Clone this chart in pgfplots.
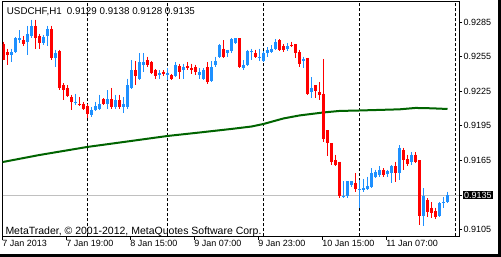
\documentclass[border=0pt]{standalone}
\usepackage{pgfplots}
\pgfplotsset{compat=1.18}
\usepackage{pgfplotstable}
\usepackage{fontspec}
\setmainfont{Liberation Sans}
\definecolor{bull}{HTML}{1E90FF}
\definecolor{bear}{HTML}{FF0000}
\definecolor{ma}{HTML}{006400}
\definecolor{cur}{HTML}{C0C0C0}

\pgfplotstableread{
i o h l c
0 0.9266 0.9268 0.9252 0.9252
1 0.9259 0.9262 0.9248 0.9256
5 0.9269 0.9273 0.9264 0.9266
8 0.9282 0.9287 0.9262 0.9271
9 0.9273 0.9275 0.9262 0.9267
12 0.9279 0.9282 0.9252 0.9254
14 0.9260 0.9261 0.9226 0.9228
15 0.9230 0.9232 0.9217 0.9226
16 0.9228 0.9230 0.9220 0.9221
17 0.9220 0.9222 0.9209 0.9216
19 0.9214 0.9220 0.9212 0.9213
20 0.9214 0.9216 0.9209 0.9210
21 0.9212 0.9214 0.9202 0.9205
25 0.9218 0.9219 0.9213 0.9214
27 0.9218 0.9228 0.9210 0.9211
29 0.9217 0.9222 0.9210 0.9211
33 0.9243 0.9251 0.9230 0.9238
36 0.9252 0.9255 0.9246 0.9248
37 0.9250 0.9251 0.9240 0.9241
38 0.9243 0.9244 0.9236 0.9238
40 0.9242 0.9243 0.9238 0.9240
42 0.9239 0.9240 0.9235 0.9236
44 0.9247 0.9249 0.9236 0.9242
46 0.9247 0.9250 0.9243 0.9245
47 0.9245 0.9249 0.9240 0.9243
48 0.9246 0.9248 0.9239 0.9242
51 0.9246 0.9250 0.9231 0.9233
55 0.9262 0.9269 0.9254 0.9255
59 0.9271 0.9271 0.9245 0.9246
63 0.9258 0.9261 0.9254 0.9255
69 0.9269 0.9270 0.9260 0.9261
70 0.9264 0.9266 0.9259 0.9261
72 0.9265 0.9268 0.9263 0.9264
73 0.9266 0.9266 0.9254 0.9258
74 0.9259 0.9261 0.9246 0.9249
76 0.9254 0.9254 0.9222 0.9223
78 0.9230 0.9230 0.9219 0.9225
79 0.9224 0.9233 0.9217 0.9222
80 0.9223 0.9253 0.9181 0.9184
81 0.9191 0.9191 0.9169 0.9180
82 0.9180 0.9180 0.9161 0.9164
83 0.9165 0.9170 0.9160 0.9161
84 0.9164 0.9164 0.9132 0.9134
88 0.9145 0.9154 0.9138 0.9140
95 0.9157 0.9158 0.9151 0.9152
98 0.9160 0.9164 0.9146 0.9154
100 0.9174 0.9176 0.9157 0.9165
101 0.9166 0.9170 0.9160 0.9162
103 0.9170 0.9172 0.9163 0.9164
104 0.9165 0.9165 0.9109 0.9117
106 0.9131 0.9132 0.9116 0.9120
107 0.9124 0.9129 0.9115 0.9119
108 0.9121 0.9124 0.9114 0.9116
}\bear

\pgfplotstableread{
i o h l c
2 0.9256 0.9262 0.9250 0.9259
3 0.9259 0.9272 0.9258 0.9271
4 0.9269 0.9278 0.9267 0.9271
6 0.9268 0.9282 0.9256 0.9275
7 0.9273 0.9287 0.9271 0.9282
10 0.9267 0.9274 0.9265 0.9272
11 0.9273 0.9282 0.9264 0.9279
13 0.9254 0.9261 0.9246 0.9258
18 0.9215 0.9223 0.9213 0.9216
22 0.9204 0.9211 0.9203 0.9209
23 0.9209 0.9216 0.9208 0.9212
24 0.9210 0.9222 0.9209 0.9214
26 0.9214 0.9226 0.9210 0.9218
28 0.9211 0.9222 0.9210 0.9217
30 0.9211 0.9220 0.9206 0.9214
31 0.9211 0.9236 0.9210 0.9230
32 0.9228 0.9252 0.9227 0.9243
34 0.9236 0.9258 0.9235 0.9250
35 0.9248 0.9258 0.9242 0.9250
39 0.9239 0.9243 0.9236 0.9241
41 0.9239 0.9245 0.9235 0.9241
43 0.9238 0.9250 0.9237 0.9248
45 0.9243 0.9249 0.9236 0.9246
49 0.9239 0.9245 0.9236 0.9242
50 0.9236 0.9245 0.9235 0.9243
52 0.9234 0.9251 0.9233 0.9246
53 0.9248 0.9255 0.9246 0.9251
54 0.9255 0.9266 0.9254 0.9265
56 0.9258 0.9261 0.9255 0.9261
57 0.9260 0.9271 0.9258 0.9270
58 0.9267 0.9271 0.9266 0.9271
60 0.9245 0.9252 0.9243 0.9248
61 0.9248 0.9261 0.9247 0.9260
62 0.9259 0.9262 0.9252 0.9260
64 0.9254 0.9262 0.9251 0.9255
65 0.9251 0.9260 0.9250 0.9258
66 0.9258 0.9263 0.9255 0.9261
67 0.9259 0.9265 0.9258 0.9262
68 0.9262 0.9270 0.9261 0.9268
71 0.9262 0.9267 0.9260 0.9264
75 0.9251 0.9255 0.9245 0.9253
77 0.9224 0.9237 0.9219 0.9228
85 0.9133 0.9147 0.9132 0.9134
86 0.9134 0.9147 0.9132 0.9147
87 0.9144 0.9147 0.9142 0.9147
89 0.9139 0.9148 0.9124 0.9140
90 0.9139 0.9149 0.9138 0.9141
91 0.9140 0.9151 0.9139 0.9143
92 0.9142 0.9158 0.9141 0.9154
93 0.9151 0.9157 0.9150 0.9155
94 0.9152 0.9160 0.9151 0.9157
96 0.9153 0.9157 0.9151 0.9156
97 0.9154 0.9161 0.9145 0.9160
99 0.9154 0.9178 0.9148 0.9176
102 0.9164 0.9172 0.9161 0.9170
105 0.9117 0.9141 0.9108 0.9134
109 0.9117 0.9129 0.9116 0.9128
110 0.9128 0.9133 0.9124 0.9129
111 0.9129 0.9138 0.9128 0.9135
}\bull

\pgfplotstableread{
i v
-0.2 0.91636
9 0.91697
21 0.91767
32 0.91819
41 0.91862
49 0.91892
57 0.91923
62 0.91944
65 0.91966
70 0.92014
74 0.92040
80 0.92066
84 0.92079
89 0.92083
99 0.92093
103 0.92105
107 0.92102
111 0.92096
}\mav

\begin{document}
\begin{tikzpicture}
\useasboundingbox (0pt,0pt) rectangle (501pt,257pt);
\fill[black] (0pt,0pt) rectangle (501pt,257pt);
\fill[white] (0pt,3pt) rectangle (498pt,257pt);
\begin{axis}[
  at={(2.7pt,20.5pt)}, anchor=south west,
  scale only axis, width=456.6pt, height=234.5pt,
  xmin=-0.2, xmax=113.95, ymin=0.909901, ymax=0.930239,
  axis line style={line width=1pt, black},
  tick style={line width=1pt, black},
  major tick length=3pt, tick align=outside,
  xtick pos=left, ytick pos=right, yticklabel pos=right,
  xtick={-0.2,15.8,31.8,47.8,63.8,79.8,95.8},
  xticklabels={7 Jan 2013,7 Jan 19:00,8 Jan 15:00,9 Jan 07:00,9 Jan 23:00,10 Jan 15:00,11 Jan 07:00},
  ytick={0.9105,0.9165,0.9195,0.9225,0.9255,0.9285},
  scaled y ticks=false,
  /pgf/number format/fixed,
  /pgf/number format/fixed zerofill,
  /pgf/number format/precision=4,
  /pgf/number format/assume math mode=true,
  tick label style={font=\fontsize{9}{10}\selectfont},
  xticklabel style={anchor=north west, xshift=-1.5pt, inner sep=1pt},
  yticklabel style={anchor=west, inner sep=1pt},
  extra y ticks={0.9135},
  extra y tick style={grid=major, major grid style={draw=cur, line width=1pt},
     yticklabel style={fill=black, text=white, inner xsep=1.5pt, inner ysep=1pt}},
  extra x ticks={21,41,65,89,113},
  extra x tick labels={},
  extra x tick style={grid=major, major tick length=0pt,
     major grid style={draw=black, line width=1pt, dash pattern=on 3pt off 2pt}},
  clip=true,
]
\addplot[draw=ma, line width=2pt, mark=none] table[x=i, y=v] {\mav};
% wicks
\addplot[draw=none, mark=none,
  error bars/.cd, y dir=minus, y explicit, error mark=none,
  error bar style={solid, draw=bull, line width=1pt}]
  table[x=i, y=h, y error minus expr=\thisrow{h}-\thisrow{l}] {\bull};
\addplot[draw=none, mark=none,
  error bars/.cd, y dir=minus, y explicit, error mark=none,
  error bar style={solid, draw=bear, line width=1pt}]
  table[x=i, y=h, y error minus expr=\thisrow{h}-\thisrow{l}] {\bear};
% bodies
\addplot[draw=none, mark=none,
  error bars/.cd, y dir=minus, y explicit, error mark=none,
  error bar style={solid, draw=bull, line width=3pt}]
  table[x=i, y expr={max(\thisrow{o},\thisrow{c})}, y error minus expr={max(abs(\thisrow{o}-\thisrow{c}),0.00009)}] {\bull};
\addplot[draw=none, mark=none,
  error bars/.cd, y dir=minus, y explicit, error mark=none,
  error bar style={solid, draw=bear, line width=3pt}]
  table[x=i, y expr={max(\thisrow{o},\thisrow{c})}, y error minus expr={max(abs(\thisrow{o}-\thisrow{c}),0.00009)}] {\bear};
\end{axis}
\node[anchor=base west, inner sep=0pt, font=\fontsize{9.8}{11}\selectfont] at (6.7pt,242pt) {USDCHF,H1\hspace{5pt}0.9129 0.9138 0.9128 0.9135};
\node[anchor=base west, inner sep=0pt, font=\fontsize{10.5}{12}\selectfont] at (5.3pt,22.7pt) {MetaTrader, © 2001-2012, MetaQuotes Software Corp.};
\end{tikzpicture}
\end{document}
